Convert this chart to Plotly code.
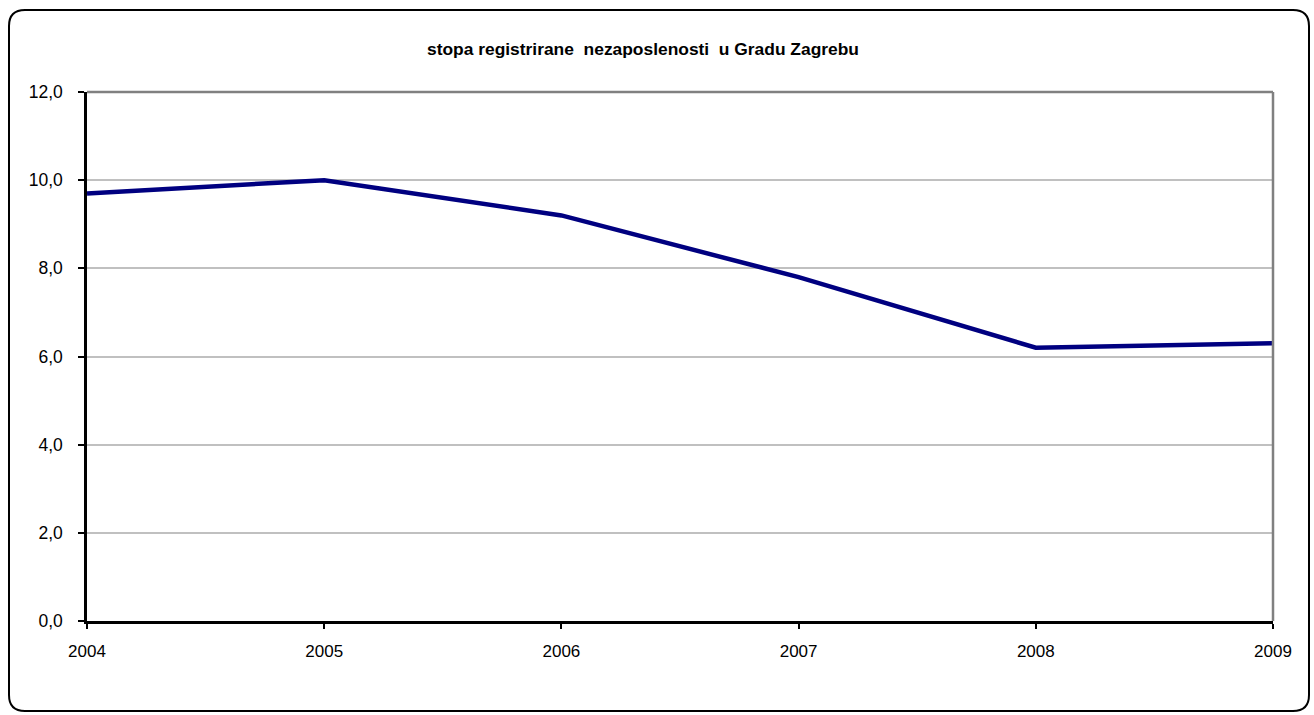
import plotly.graph_objects as go

years = [2004, 2005, 2006, 2007, 2008, 2009]
rate = [9.7, 10.0, 9.2, 7.8, 6.2, 6.3]
y_ticks = [0, 2, 4, 6, 8, 10, 12]
y_tick_labels = ["0,0", "2,0", "4,0", "6,0", "8,0", "10,0", "12,0"]
title_text = "stopa registrirane  nezaposlenosti  u Gradu Zagrebu"

W, H = 1314, 715
L, R, T, B = 87, 41, 92, 94
pw, ph = W - L - R, H - T - B

def px(X):
    return (X - L) / pw

def py(Y):
    return (H - B - Y) / ph

fig = go.Figure()
fig.add_trace(go.Scatter(
    x=years, y=rate, mode="lines",
    line=dict(color="#000080", width=4.5),
    hoverinfo="skip", showlegend=False,
))

# outer rounded border
x0, x1, y0, y1 = 9, 1309, 10, 711
r = 16
rx, ry = r / pw, r / ph
path = (
    f"M {px(x0)},{py(y0) - ry} "
    f"Q {px(x0)},{py(y0)} {px(x0) + rx},{py(y0)} "
    f"L {px(x1) - rx},{py(y0)} "
    f"Q {px(x1)},{py(y0)} {px(x1)},{py(y0) - ry} "
    f"L {px(x1)},{py(y1) + ry} "
    f"Q {px(x1)},{py(y1)} {px(x1) - rx},{py(y1)} "
    f"L {px(x0) + rx},{py(y1)} "
    f"Q {px(x0)},{py(y1)} {px(x0)},{py(y1) + ry} Z"
)
shapes = [
    dict(type="path", xref="paper", yref="paper", path=path,
         line=dict(color="black", width=2), layer="below"),
    dict(type="line", xref="paper", yref="paper", x0=0, x1=1, y0=1, y1=1,
         line=dict(color="#808080", width=2.5)),
    dict(type="line", xref="paper", yref="paper", x0=1, x1=1, y0=0, y1=1,
         line=dict(color="#808080", width=2.5)),
]

fig.update_layout(
    width=W, height=H,
    margin=dict(l=L, r=R, t=T, b=B),
    paper_bgcolor="white", plot_bgcolor="white",
    font=dict(family="Liberation Sans, Arial, sans-serif", size=17, color="black"),
    title=dict(text=f"<b>{title_text}</b>", xref="container", x=643 / W,
               xanchor="center", yref="container",
               y=1 - 49 / H, yanchor="middle",
               font=dict(size=17.4, color="black")),
    shapes=shapes,
    xaxis=dict(
        range=[2004, 2009], tickmode="array", tickvals=years,
        ticktext=[str(y) for y in years],
        showgrid=False, zeroline=False,
        showline=True, linecolor="black", linewidth=2.5,
        ticks="outside", ticklen=5, tickwidth=2, tickcolor="black",
        tickfont=dict(size=17), ticklabelstandoff=8,
    ),
    yaxis=dict(
        range=[0, 12], tickmode="array", tickvals=y_ticks, ticktext=y_tick_labels,
        showgrid=True, gridcolor="#c0c0c0", gridwidth=2,
        zeroline=False,
        showline=True, linecolor="black", linewidth=2.5,
        ticks="outside", ticklen=6, tickwidth=2, tickcolor="black",
        tickfont=dict(size=17.5), ticklabelstandoff=12,
    ),
)

fig.write_html("out.html", config={"displayModeBar": False},
               post_script="document.body.style.margin='0';document.body.style.overflow='hidden';")
